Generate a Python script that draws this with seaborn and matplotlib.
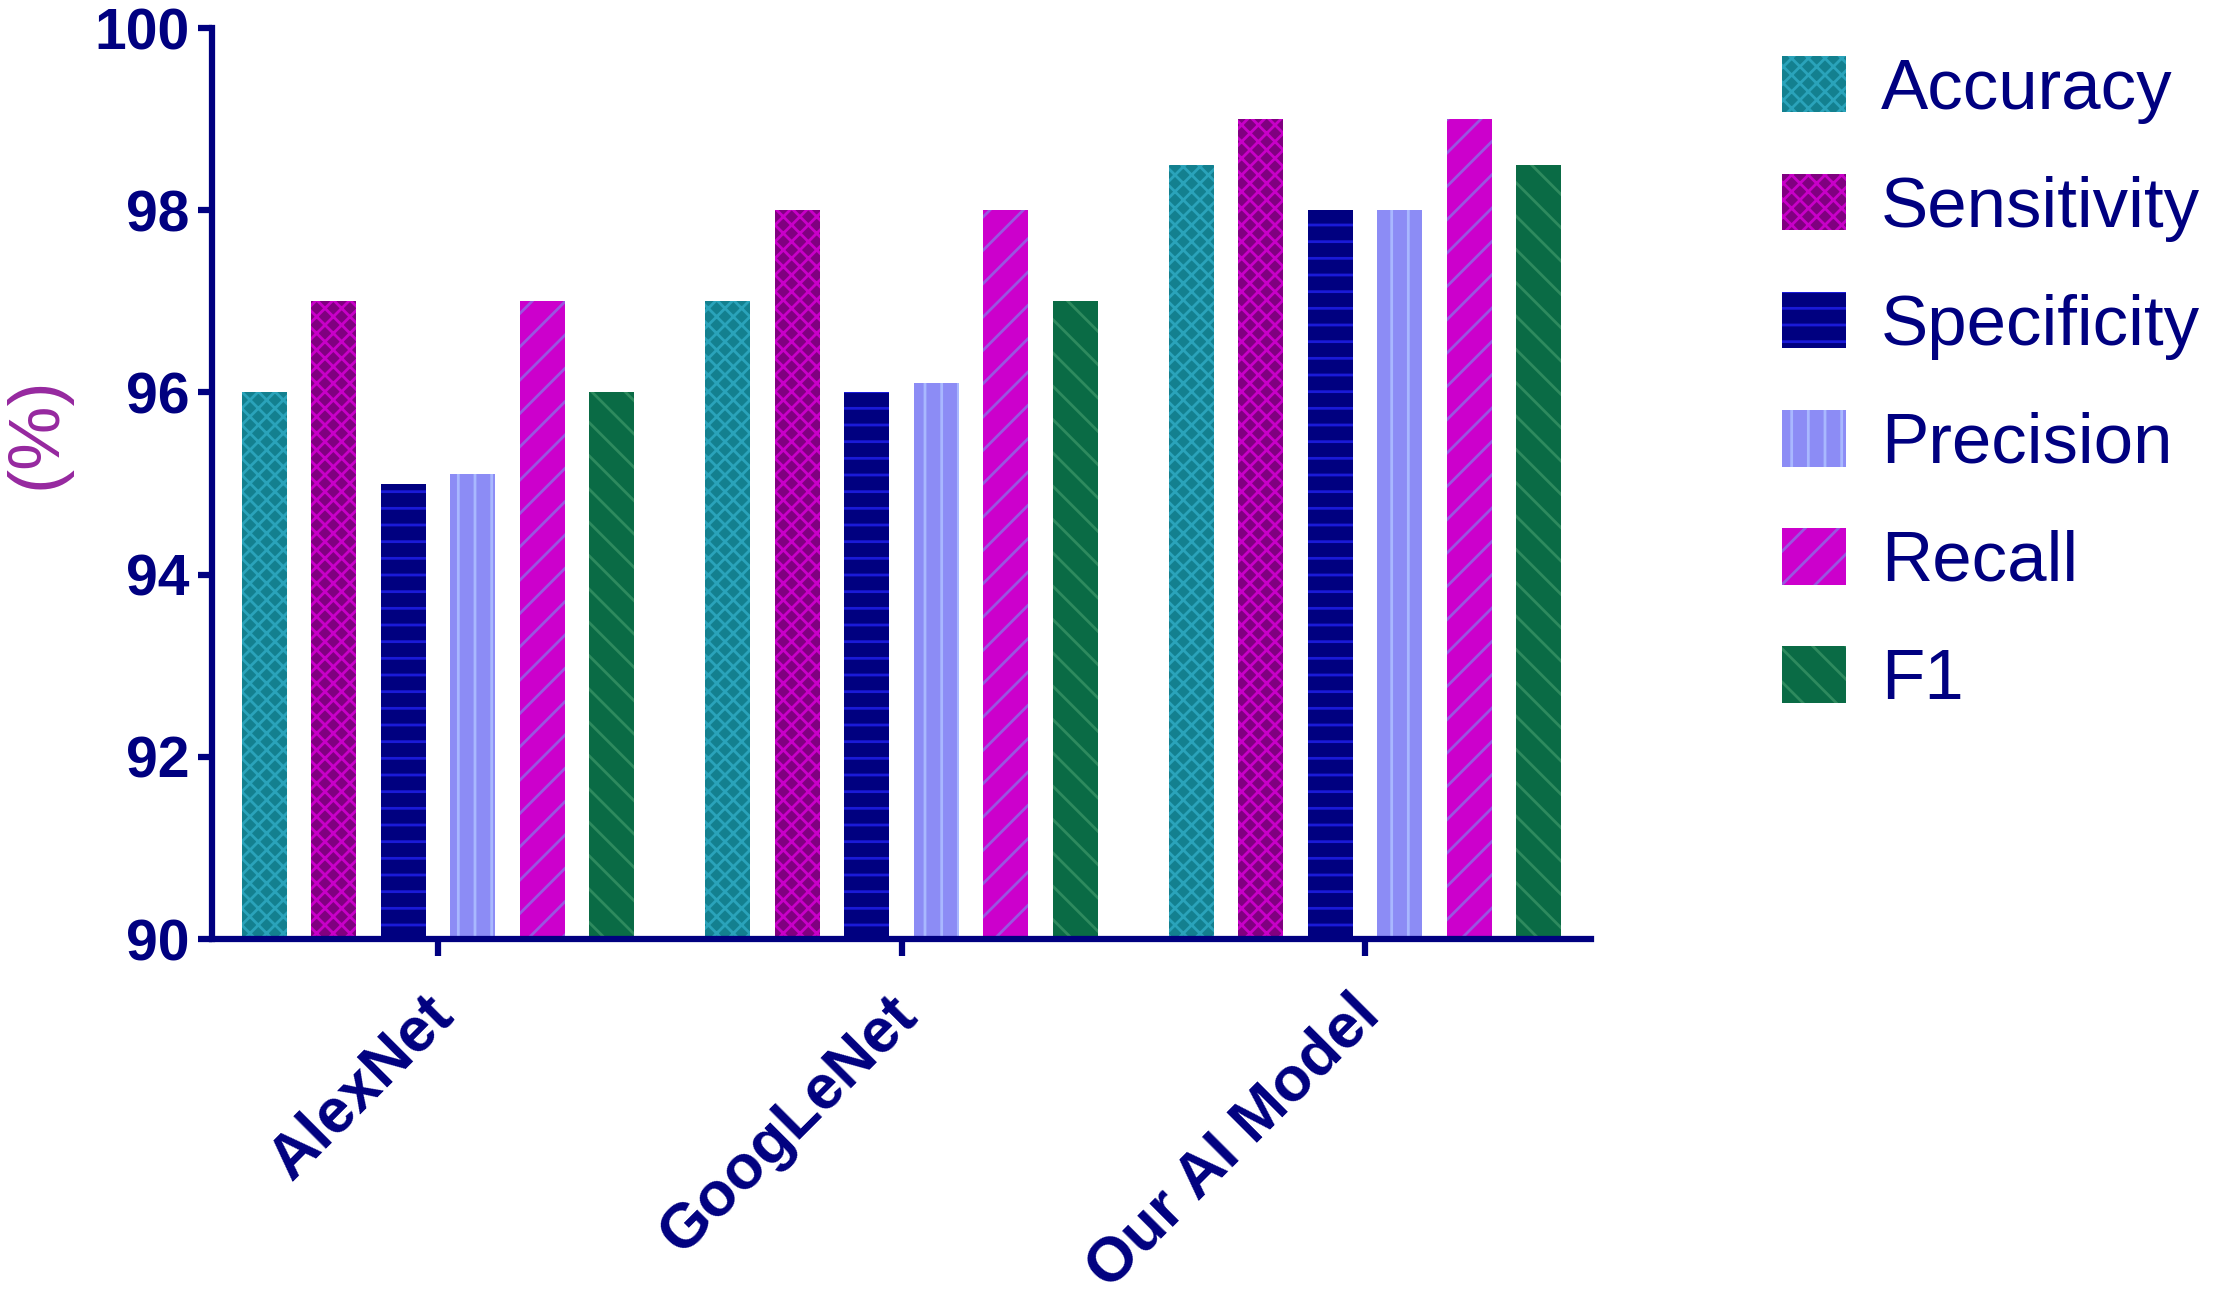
import matplotlib
matplotlib.use("Agg")
import matplotlib.pyplot as plt
import matplotlib.patches as mpatches
import matplotlib.transforms as mtransforms
import pandas as pd
import seaborn as sns

# values
models = ["AlexNet", "GoogLeNet", "Our AI Model"]
metrics = ["Accuracy", "Sensitivity", "Specificity", "Precision", "Recall", "F1"]
accuracy = [96.0, 97.0, 98.5]
sensitivity = [97.0, 98.0, 99.0]
specificity = [95.0, 96.0, 98.0]
precision = [95.1, 96.1, 98.0]
recall = [97.0, 98.0, 99.0]
f1 = [96.0, 97.0, 98.5]

face_colors = ["#13808F", "#800080", "#000080", "#8C8CF5", "#CC00CC", "#0A6B45"]
hatch_colors = ["#2AA3BA", "#C800C8", "#1A1AD8", "#A9B8FF", "#9A55E0", "#2E8A5E"]
hatches = ["xx", "xx", "-", "|", "/", "\\"]

NAVY = "#000080"

series = [accuracy, sensitivity, specificity, precision, recall, f1]
rows = []
for metric, vals in zip(metrics, series):
    for model, v in zip(models, vals):
        rows.append({"model": model, "metric": metric, "value": v})
df = pd.DataFrame(rows)

sns.set_style("white")
plt.rcParams["font.family"] = ["Liberation Sans", "DejaVu Sans"]
plt.rcParams["hatch.linewidth"] = 2.0

fig = plt.figure(figsize=(22.17, 12.99), dpi=100)
ax = fig.add_axes([0.0956, 0.2771, 0.6221, 0.7013])

sns.barplot(data=df, x="model", y="value", hue="metric", hue_order=metrics,
            order=models, palette=face_colors, saturation=1, width=0.9, gap=0.35,
            errorbar=None, linewidth=0, legend=False, ax=ax)

for cont, hc, h in zip(ax.containers, hatch_colors, hatches):
    for bar in cont:
        bar.set_hatch(h)
        bar.set_edgecolor(hc)
        bar.set_linewidth(0)

ax.set_ylim(90, 100)
ax.set_xlim(-0.488, 2.488)
ax.set_yticks([90, 92, 94, 96, 98, 100])
ax.set_xlabel("")
ax.set_ylabel("")

sns.despine(ax=ax)
for side in ["left", "bottom"]:
    ax.spines[side].set_color(NAVY)
    ax.spines[side].set_linewidth(4.5)

ax.tick_params(axis="y", direction="out", length=10, width=4.5, color=NAVY,
               labelcolor=NAVY, labelsize=41, pad=6, left=True)
ax.tick_params(axis="x", direction="out", length=12, width=4.5, color=NAVY,
               labelcolor=NAVY, labelsize=45, pad=21, bottom=True)
for lab in ax.get_yticklabels():
    lab.set_fontweight("bold")
shift = mtransforms.ScaledTranslation(-0.15, 0, fig.dpi_scale_trans)
for lab in ax.get_xticklabels():
    lab.set_fontweight("bold")
    lab.set_rotation(45)
    lab.set_ha("right")
    lab.set_va("top")
    lab.set_rotation_mode("anchor")
    lab.set_transform(lab.get_transform() + shift)

fig.text(0.0167, 0.667, "(%)", rotation=90, ha="center", va="center",
         color="#96289F", fontsize=52)

handles = [mpatches.Patch(facecolor=fc, edgecolor=hc, hatch=h, linewidth=0)
           for fc, hc, h in zip(face_colors, hatch_colors, hatches)]
ax.legend(handles, metrics, loc="upper left", bbox_to_anchor=(0.8038, 0.957),
          bbox_transform=fig.transFigure, frameon=False, fontsize=51,
          labelcolor=NAVY, handlelength=0.9, handleheight=0.85,
          handletextpad=0.5, labelspacing=0.71, borderpad=0, borderaxespad=0)

fig.savefig("out.png", dpi=100)
